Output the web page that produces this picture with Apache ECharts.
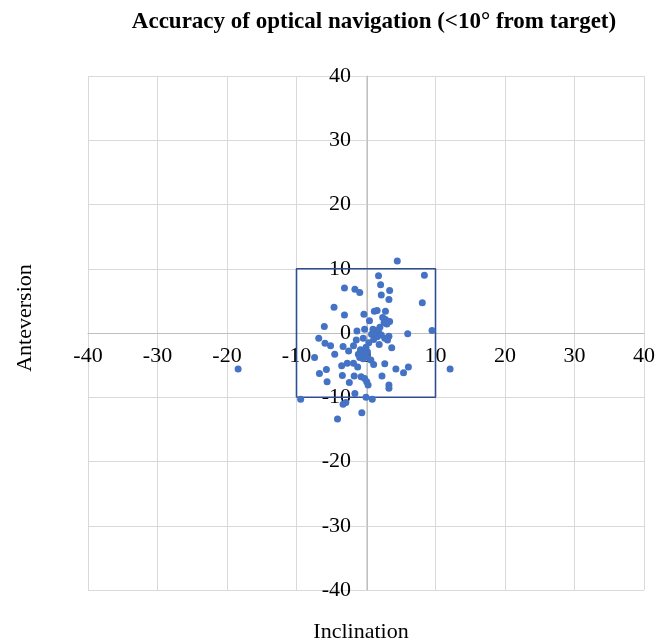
<!DOCTYPE html>
<html>
<head>
<meta charset="utf-8">
<script src="https://cdn.jsdelivr.net/npm/echarts@6/dist/echarts.min.js"></script>
<style>
  html, body { margin: 0; padding: 0; background: #fff; }
  #chart { width: 658px; height: 643px; }
</style>
</head>
<body>
<div id="chart"></div>
<script>
// inclination (x), anteversion (y) of each case
const inclination = [
  4.5, 8.4, 1.8, 2.1, -3.1, -1.6, -0.9, 3.4, 2.2, 3.3,
  8.1, -4.6, -3.1, -0.3, 1.2, 1.6, 2.8, 0.5, 2.4, 2.8,
  3.4, 2.6, 3.0, -6.0, -0.2, 1.0, 1.4, -1.3, 1.8, 6.0,
  9.5, 0.8, 2.2, 3.3, -6.8, -1.4, -0.4, 1.1, 2.7, 3.1,
  -5.9, -5.1, 1.9, -3.3, -1.8, 3.7, -2.5, -0.8, 0.0, -1.1,
  -0.5, -4.5, -7.4, 0.1, -1.8, -2.7, 0.7, -3.5, -1.2, 1.1,
  2.7, 4.3, 6.1, -5.7, -6.7, -3.4, -1.7, -0.7, -0.2, 2.3,
  5.4, -5.6, -2.4, 0.1, 0.3, 3.3, 3.3, -1.6, 0.0, 0.9,
  -9.4, -2.9, -3.3, -0.6, -4.1, 12.1, -18.4, 0.4, -0.9, 1.6,
  -0.4, 0.2, 2.0
]
const anteversion = [
  11.2, 9.0, 8.9, 7.5, 7.0, 6.8, 6.3, 6.6, 5.9, 5.2,
  4.7, 4.0, 2.8, 2.9, 3.4, 3.5, 3.4, 1.9, 2.4, 2.1,
  1.8, 1.6, 1.4, 1.0, 0.6, 0.6, 0.4, 0.3, 0.2, -0.1,
  0.4, -0.2, -0.3, -0.5, -0.8, -1.1, -0.8, -1.0, -0.8, -1.1,
  -1.6, -2.0, -1.8, -2.1, -2.0, -2.3, -2.8, -2.6, -2.2, -3.3,
  -3.2, -3.3, -3.8, -3.7, -4.7, -4.7, -4.2, -5.1, -5.3, -4.9,
  -4.8, -5.6, -5.3, -5.7, -6.3, -6.6, -6.7, -6.8, -7.1, -6.7,
  -6.2, -7.6, -7.7, -7.6, -8.1, -8.1, -8.6, -9.4, -10.0, -10.3,
  -10.3, -10.8, -11.1, -12.4, -13.4, -5.6, -5.6, -1.5, -3.8, -0.6,
  -4.0, -2.9, 0.9
]
// target zone outline (<10°)
const boxX = [-10, 10, 10, -10, -10]
const boxY = [-10, -10, 10, 10, -10]

const serif = '"Liberation Serif", "DejaVu Serif", serif'
const chart = echarts.init(document.getElementById('chart'))

// grid in px, axes crossed at the origin like Excel
const gLeft = 88, gRight = 12, gTop = 76, gBottom = 53
const plotW = 658 - gLeft - gRight
const plotH = 643 - gTop - gBottom

chart.setOption({
  animation: false,
  title: {
    text: 'Accuracy of optical navigation (<10° from target)',
    left: 369,
    textAlign: 'center',
    top: 6,
    textStyle: { fontFamily: serif, fontSize: 23, fontWeight: 'bold', color: '#000' }
  },
  grid: { left: gLeft, right: gRight, top: gTop, bottom: gBottom },
  xAxis: {
    type: 'value',
    min: -40,
    max: 40,
    interval: 10,
    position: 'bottom',
    offset: -plotH / 2,
    axisLine: { show: true, onZero: false, lineStyle: { color: '#bfbfbf' } },
    axisTick: { show: false },
    axisLabel: { fontFamily: serif, fontSize: 22, color: '#000', margin: 12 },
    splitLine: { lineStyle: { color: '#d9d9d9' } }
  },
  yAxis: {
    type: 'value',
    min: -40,
    max: 40,
    interval: 10,
    position: 'left',
    offset: -plotW / 2,
    axisLine: { show: true, onZero: false, lineStyle: { color: '#bfbfbf' } },
    axisTick: { show: false },
    axisLabel: { fontFamily: serif, fontSize: 22, color: '#000', margin: 16 },
    splitLine: { lineStyle: { color: '#d9d9d9' } }
  },
  graphic: [
    {
      type: 'text', x: 361, y: 632,
      style: { text: 'Inclination', font: '22px ' + serif, fill: '#000', align: 'center', verticalAlign: 'middle' }
    },
    {
      type: 'text', x: 25, y: 318, rotation: Math.PI / 2,
      style: { text: 'Anteversion', font: '22px ' + serif, fill: '#000', align: 'center', verticalAlign: 'middle' }
    }
  ],
  series: [
    {
      type: 'line',
      data: boxX.map((x, i) => [x, boxY[i]]),
      symbol: 'none',
      lineStyle: { color: '#2f4d91', width: 1.6 },
      z: 3
    },
    {
      type: 'scatter',
      data: inclination.map((x, i) => [x, anteversion[i]]),
      symbolSize: 7,
      itemStyle: { color: '#4472c4', opacity: 1 },
      z: 4
    }
  ]
})
</script>
</body>
</html>
